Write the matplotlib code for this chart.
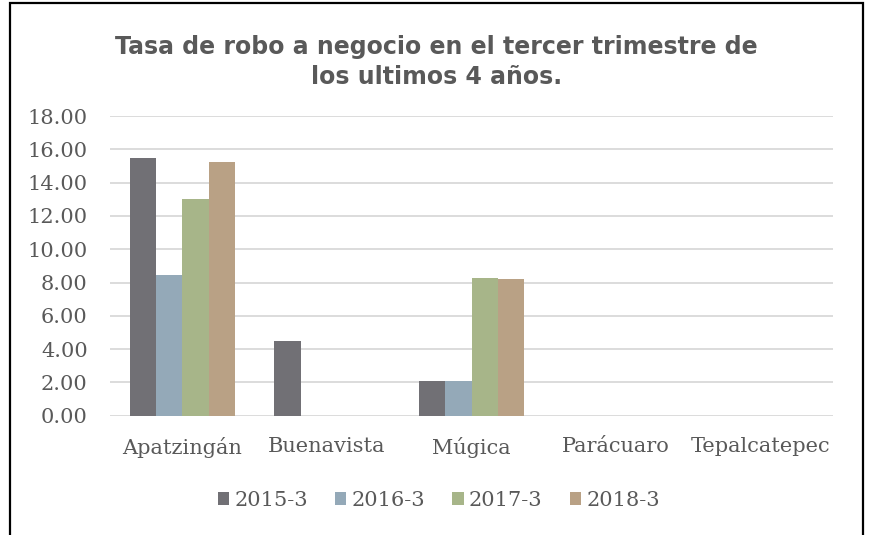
import matplotlib
matplotlib.use('Agg')
import matplotlib.pyplot as plt
import matplotlib.patches as mpatches
import numpy as np

municipios = ["Apatzingán", "Buenavista", "Múgica", "Parácuaro", "Tepalcatepec"]
periodos = ["2015-3", "2016-3", "2017-3", "2018-3"]
t2015 = [15.50, 4.48, 2.08, 0.0, 0.0]
t2016 = [8.44, 0.0, 2.08, 0.0, 0.0]
t2017 = [13.00, 0.0, 8.26, 0.0, 0.0]
t2018 = [15.22, 0.0, 8.20, 0.0, 0.0]
colores = ["#717075", "#94a9b8", "#a7b589", "#b9a185"]

series = [t2015, t2016, t2017, t2018]
gris = "#595959"

fig = plt.figure(figsize=(8.69, 5.35), dpi=100)
ax = fig.add_axes([0.1266, 0.223, 0.832, 0.560])

x = np.arange(len(municipios))
w = 0.182
for i, (vals, col, lab) in enumerate(zip(series, colores, periodos)):
    ax.bar(x + (i - 1.5) * w, vals, width=w, color=col, label=lab, zorder=3)

ax.set_xlim(-0.5, len(municipios) - 0.5)
ax.set_ylim(0, 18)
ax.set_yticks(np.arange(0, 19, 2))
ax.set_yticklabels(["%.2f" % v for v in np.arange(0, 19, 2)])
ax.set_xticks(x)
ax.set_xticklabels(municipios)
ax.grid(axis='y', color="#d9d9d9", lw=1.3, zorder=0)
for s in ax.spines.values():
    s.set_visible(False)
ax.tick_params(length=0, labelsize=15, labelcolor=gris)
ax.tick_params(axis='y', pad=16)
ax.tick_params(axis='x', pad=15)
for t in ax.get_xticklabels() + ax.get_yticklabels():
    t.set_family("DejaVu Serif")

fig.text(0.502, 0.884, "Tasa de robo a negocio en el tercer trimestre de\nlos ultimos 4 años.",
         ha='center', va='center', fontsize=17, fontweight='bold', color=gris,
         family="DejaVu Sans", linespacing=1.3)

leg = fig.legend(loc='center', bbox_to_anchor=(0.505, 0.065), ncol=4, frameon=False,
                 prop={'family': 'DejaVu Serif', 'size': 15},
                 handlelength=0.55, handleheight=0.55, handletextpad=0.25, columnspacing=1.3)
for t in leg.get_texts():
    t.set_color(gris)

fig.patches.append(mpatches.Rectangle((10 / 869, -0.05), 853 / 869, 1.044,
                                      transform=fig.transFigure, fill=False,
                                      edgecolor='black', lw=1.6))

fig.savefig("out.png", dpi=100)
